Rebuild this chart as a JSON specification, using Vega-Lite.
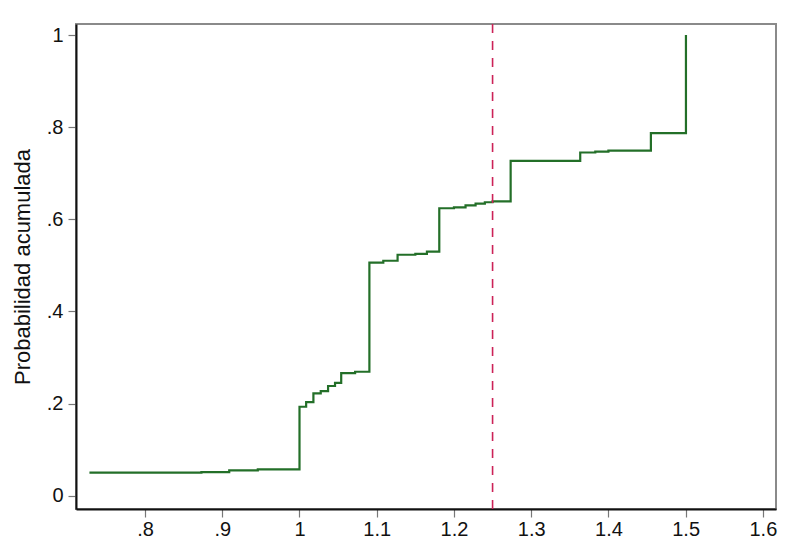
{
  "$schema": "https://vega.github.io/schema/vega-lite/v6.json",
  "width": 700,
  "height": 485,
  "autosize": {"type": "none"},
  "padding": {"left": 76, "top": 24, "right": 18, "bottom": 45},
  "background": "white",
  "config": {
    "view": {"stroke": "#8a8a8a", "strokeWidth": 2},
    "font": "Liberation Sans",
    "axis": {
      "grid": false,
      "domainColor": "#111111",
      "domainWidth": 2,
      "tickColor": "#777777",
      "tickWidth": 1.2,
      "tickSize": 8,
      "labelFontSize": 20,
      "labelColor": "#111111",
      "labelFont": "Liberation Sans",
      "titleFont": "Liberation Sans",
      "titleFontWeight": "normal",
      "titleColor": "#111111"
    }
  },
  "datasets": {
    "cdf": [
      {"x": 0.728, "p": 0.050},
      {"x": 0.873, "p": 0.051},
      {"x": 0.909, "p": 0.055},
      {"x": 0.946, "p": 0.057},
      {"x": 1.000, "p": 0.193},
      {"x": 1.0086, "p": 0.203},
      {"x": 1.018, "p": 0.222},
      {"x": 1.0275, "p": 0.227},
      {"x": 1.037, "p": 0.238},
      {"x": 1.046, "p": 0.245},
      {"x": 1.054, "p": 0.266},
      {"x": 1.072, "p": 0.269},
      {"x": 1.0905, "p": 0.506},
      {"x": 1.1085, "p": 0.510},
      {"x": 1.127, "p": 0.523},
      {"x": 1.150, "p": 0.525},
      {"x": 1.165, "p": 0.530},
      {"x": 1.181, "p": 0.624},
      {"x": 1.200, "p": 0.626},
      {"x": 1.215, "p": 0.630},
      {"x": 1.228, "p": 0.634},
      {"x": 1.240, "p": 0.637},
      {"x": 1.250, "p": 0.639},
      {"x": 1.2734, "p": 0.727},
      {"x": 1.3635, "p": 0.745},
      {"x": 1.383, "p": 0.747},
      {"x": 1.400, "p": 0.749},
      {"x": 1.455, "p": 0.787},
      {"x": 1.5004, "p": 1.0}
    ],
    "ref": [{"x": 1.25}]
  },
  "layer": [
    {
      "data": {"name": "cdf"},
      "mark": {"type": "line", "interpolate": "step-after", "color": "#236f28", "strokeWidth": 2.2, "clip": true},
      "encoding": {
        "x": {
          "field": "x", "type": "quantitative",
          "scale": {"domain": [0.7106, 1.617], "nice": false, "zero": false},
          "axis": {
            "title": null,
            "values": [0.8, 0.9, 1.0, 1.1, 1.2, 1.3, 1.4, 1.5, 1.6],
            "labelPadding": 2,
            "labelExpr": "datum.value > 0 && datum.value < 1 ? substring(format(datum.value, '.1f'), 1) : format(datum.value, '.1~f')"
          }
        },
        "y": {
          "field": "p", "type": "quantitative",
          "scale": {"domain": [-0.029, 1.024], "nice": false, "zero": false},
          "axis": {
            "title": "Probabilidad acumulada",
            "titleFontSize": 22,
            "titlePadding": 12,
            "values": [0, 0.2, 0.4, 0.6, 0.8, 1],
            "labelPadding": 5,
            "labelExpr": "datum.value > 0 && datum.value < 1 ? substring(format(datum.value, '.1f'), 1) : format(datum.value, '.1~f')"
          }
        }
      }
    },
    {
      "data": {"name": "ref"},
      "mark": {"type": "rule", "color": "#cc2257", "strokeWidth": 1.6, "strokeDash": [9, 8]},
      "encoding": {
        "x": {"field": "x", "type": "quantitative"}
      }
    }
  ]
}
